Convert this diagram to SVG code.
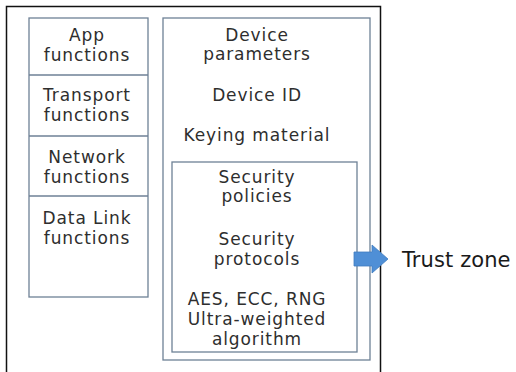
<svg xmlns="http://www.w3.org/2000/svg" width="516" height="372" viewBox="0 0 516 372">
<style>
  .box { fill: none; stroke: #6e8196; stroke-width: 1.3; }
  .frame { fill: none; stroke: #111; stroke-width: 1.5; }
  text { font-family: "DejaVu Sans", "Noto Sans", sans-serif; font-size: 17px; fill: #2e2e2e; text-anchor: middle; letter-spacing: 0.9px; }
  .big { font-size: 21px; text-anchor: start; letter-spacing: 0.1px; fill: #1a1a1a; }
</style>
<rect width="516" height="372" fill="#fff"/>
<polyline class="frame" points="6.5,373 6.5,6.5 380.5,6.5 380.5,373"/>
<g id="left-column">
  <rect class="box" x="29" y="18" width="119" height="279"/>
  <line class="box" x1="29" y1="75" x2="148" y2="75"/>
  <line class="box" x1="29" y1="136" x2="148" y2="136"/>
  <line class="box" x1="29" y1="196" x2="148" y2="196"/>
</g>
<g id="app-functions"><text x="87" y="41">App</text><text x="87" y="61">functions</text></g>
<g id="transport-functions"><text x="87" y="101">Transport</text><text x="87" y="121">functions</text></g>
<g id="network-functions"><text x="87" y="163">Network</text><text x="87" y="183">functions</text></g>
<g id="datalink-functions"><text x="87" y="224">Data Link</text><text x="87" y="244">functions</text></g>
<g id="device-box">
  <rect class="box" x="163" y="18" width="207" height="342"/>
  <text x="257" y="41">Device</text><text x="257" y="60">parameters</text>
  <text x="257" y="101">Device ID</text>
  <text x="257" y="141">Keying material</text>
</g>
<g id="security-box">
  <rect class="box" x="172" y="162" width="185" height="190"/>
  <text x="257" y="183">Security</text><text x="257" y="202">policies</text>
  <text x="257" y="245">Security</text><text x="257" y="265">protocols</text>
  <text x="257" y="305">AES, ECC, RNG</text><text x="257" y="325">Ultra-weighted</text><text x="257" y="345">algorithm</text>
</g>
<g id="connectors">
  <polygon points="354,252 372,252 372,245 388,259 372,273 372,266 354,266" fill="#4f8fd6" stroke="#3f7cc0" stroke-width="0.8"/>
</g>
<g id="trust-zone"><text class="big" x="402" y="267">Trust zone</text></g>
</svg>
